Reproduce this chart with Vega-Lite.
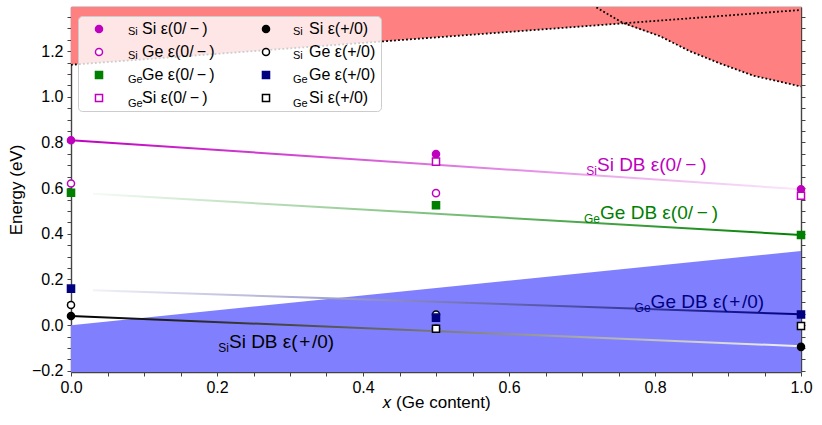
{
  "$schema": "https://vega.github.io/schema/vega-lite/v6.json",
  "width": 730,
  "height": 365,
  "autosize": "none",
  "padding": {"left": 71, "top": 7, "right": 21, "bottom": 53},
  "background": "white",
  "datasets": {
    "cb": [
      {"x": 0, "y": 1.14},
      {"x": 0.755, "y": 1.321},
      {"x": 0.807, "y": 1.265},
      {"x": 0.848, "y": 1.199},
      {"x": 0.889, "y": 1.146},
      {"x": 0.935, "y": 1.092},
      {"x": 1, "y": 1.045}
    ],
    "vb": [
      {"x": 0, "y": 0.0},
      {"x": 1, "y": 0.325}
    ],
    "bands": [
      {"band": "rising", "x": 0, "y": 1.14},
      {"band": "rising", "x": 1, "y": 1.38},
      {"band": "falling", "x": 0.715, "y": 1.4},
      {"band": "falling", "x": 0.755, "y": 1.325},
      {"band": "falling", "x": 0.807, "y": 1.265},
      {"band": "falling", "x": 0.848, "y": 1.199},
      {"band": "falling", "x": 0.889, "y": 1.146},
      {"band": "falling", "x": 0.935, "y": 1.092},
      {"band": "falling", "x": 1, "y": 1.045}
    ],
    "fits": [
      {"fit": "SiSi 0/-", "x": 0, "y": 0.81},
      {"fit": "SiSi 0/-", "x": 1, "y": 0.595},
      {"fit": "GeGe 0/-", "x": 0.03, "y": 0.575},
      {"fit": "GeGe 0/-", "x": 1, "y": 0.395},
      {"fit": "GeGe +/0", "x": 0.03, "y": 0.153},
      {"fit": "GeGe +/0", "x": 1, "y": 0.048},
      {"fit": "SiSi +/0", "x": 0, "y": 0.04},
      {"fit": "SiSi +/0", "x": 1, "y": -0.092}
    ],
    "points": [
      {"series": "SiSi ε(0/\u2009−\u2009)", "x": 0, "y": 0.81},
      {"series": "SiSi ε(0/\u2009−\u2009)", "x": 0.5, "y": 0.749},
      {"series": "SiSi ε(0/\u2009−\u2009)", "x": 1, "y": 0.595},
      {"series": "SiGe ε(0/\u2009−\u2009)", "x": 0, "y": 0.62},
      {"series": "SiGe ε(0/\u2009−\u2009)", "x": 0.5, "y": 0.578},
      {"series": "GeGe ε(0/\u2009−\u2009)", "x": 0, "y": 0.58},
      {"series": "GeGe ε(0/\u2009−\u2009)", "x": 0.5, "y": 0.525},
      {"series": "GeGe ε(0/\u2009−\u2009)", "x": 1, "y": 0.395},
      {"series": "GeSi ε(0/\u2009−\u2009)", "x": 0.5, "y": 0.716},
      {"series": "GeSi ε(0/\u2009−\u2009)", "x": 1, "y": 0.567},
      {"series": "SiSi ε(+/0)", "x": 0, "y": 0.04},
      {"series": "SiSi ε(+/0)", "x": 0.5, "y": -0.016},
      {"series": "SiSi ε(+/0)", "x": 1, "y": -0.095},
      {"series": "SiGe ε(+/0)", "x": 0, "y": 0.088},
      {"series": "SiGe ε(+/0)", "x": 0.5, "y": 0.047},
      {"series": "GeGe ε(+/0)", "x": 0, "y": 0.16},
      {"series": "GeGe ε(+/0)", "x": 0.5, "y": 0.033},
      {"series": "GeGe ε(+/0)", "x": 1, "y": 0.047},
      {"series": "GeSi ε(+/0)", "x": 0.5, "y": -0.016},
      {"series": "GeSi ε(+/0)", "x": 1, "y": -0.004}
    ],
    "labels": [
      {"name": "SiSi 0/-", "sub": "Si", "main": "Si DB ε(0/\u2009−\u2009)", "x": 0.7205, "y": 0.674},
      {"name": "GeGe 0/-", "sub": "Ge", "main": "Ge DB ε(0/\u2009−\u2009)", "x": 0.7247, "y": 0.463},
      {"name": "GeGe +/0", "sub": "Ge", "main": "Ge DB ε(\u200a+\u200a/0)", "x": 0.794, "y": 0.074},
      {"name": "SiSi +/0", "sub": "Si", "main": "Si DB ε(\u200a+\u200a/0)", "x": 0.2164, "y": -0.1}
    ]
  },
  "layer": [
    {
      "data": {"name": "cb"},
      "mark": {"type": "area", "color": "#ff8080", "clip": true},
      "encoding": {
        "x": {
          "field": "x",
          "type": "quantitative",
          "scale": {"domain": [0, 1], "nice": false, "zero": false},
          "axis": {
            "orient": "bottom",
            "title": "𝑥 (Ge content)",
            "values": [0, 0.05, 0.1, 0.15, 0.2, 0.25, 0.3, 0.35, 0.4, 0.45, 0.5, 0.55, 0.6, 0.65, 0.7, 0.75, 0.8, 0.85, 0.9, 0.95, 1],
            "labelExpr": "abs(datum.value * 5 - round(datum.value * 5)) < 0.001 ? format(datum.value, '.1f') : ''",
            "labelFlush": false,
            "labelOverlap": false,
            "labelPadding": 3,
            "titlePadding": -1
          }
        },
        "y": {
          "field": "y",
          "type": "quantitative",
          "scale": {"domain": [-0.205, 1.393], "nice": false, "zero": false},
          "axis": {
            "orient": "left",
            "title": "Energy (eV)",
            "values": [-0.2, -0.15, -0.1, -0.05, 0, 0.05, 0.1, 0.15, 0.2, 0.25, 0.3, 0.35, 0.4, 0.45, 0.5, 0.55, 0.6, 0.65, 0.7, 0.75, 0.8, 0.85, 0.9, 0.95, 1, 1.05, 1.1, 1.15, 1.2, 1.25, 1.3, 1.35],
            "labelExpr": "abs(datum.value * 5 - round(datum.value * 5)) < 0.001 ? format(datum.value, '.1f') : ''",
            "labelFlush": false,
            "labelOverlap": false,
            "labelPadding": 4,
            "titlePadding": 6
          }
        },
        "y2": {"datum": 1.393}
      }
    },
    {
      "data": {"name": "vb"},
      "mark": {"type": "area", "color": "#8080ff", "clip": true},
      "encoding": {
        "x": {"field": "x", "type": "quantitative", "axis": null},
        "y": {"field": "y", "type": "quantitative", "axis": null},
        "y2": {"datum": -0.205}
      }
    },
    {
      "data": {"name": "bands"},
      "mark": {"type": "line", "color": "black", "strokeWidth": 1.8, "strokeDash": [1.8, 2.2], "clip": true},
      "encoding": {
        "x": {"field": "x", "type": "quantitative", "axis": null},
        "y": {"field": "y", "type": "quantitative", "axis": null},
        "detail": {"field": "band"}
      }
    },
    {
      "data": {"name": "fits"},
      "transform": [{"filter": "datum.fit == 'SiSi 0/-'"}],
      "mark": {
        "type": "line",
        "strokeWidth": 2,
        "stroke": {"gradient": "linear", "x1": 0, "y1": 0, "x2": 1, "y2": 0,
          "stops": [{"offset": 0, "color": "#bf00bf"}, {"offset": 1, "color": "#fbe8fb"}]}
      },
      "encoding": {
        "x": {"field": "x", "type": "quantitative", "axis": null},
        "y": {"field": "y", "type": "quantitative", "axis": null}
      }
    },
    {
      "data": {"name": "fits"},
      "transform": [{"filter": "datum.fit == 'GeGe 0/-'"}],
      "mark": {
        "type": "line",
        "strokeWidth": 2,
        "stroke": {"gradient": "linear", "x1": 0, "y1": 0, "x2": 1, "y2": 0,
          "stops": [{"offset": 0, "color": "#f4fbf4"}, {"offset": 1, "color": "#008000"}]}
      },
      "encoding": {
        "x": {"field": "x", "type": "quantitative", "axis": null},
        "y": {"field": "y", "type": "quantitative", "axis": null}
      }
    },
    {
      "data": {"name": "fits"},
      "transform": [{"filter": "datum.fit == 'GeGe +/0'"}],
      "mark": {
        "type": "line",
        "strokeWidth": 2,
        "stroke": {"gradient": "linear", "x1": 0, "y1": 0, "x2": 1, "y2": 0,
          "stops": [{"offset": 0, "color": "#f2f2f8"}, {"offset": 1, "color": "#000080"}]}
      },
      "encoding": {
        "x": {"field": "x", "type": "quantitative", "axis": null},
        "y": {"field": "y", "type": "quantitative", "axis": null}
      }
    },
    {
      "data": {"name": "fits"},
      "transform": [{"filter": "datum.fit == 'SiSi +/0'"}],
      "mark": {
        "type": "line",
        "strokeWidth": 2,
        "stroke": {"gradient": "linear", "x1": 0, "y1": 0, "x2": 1, "y2": 0,
          "stops": [{"offset": 0, "color": "#000000"}, {"offset": 1, "color": "#f2f2f2"}]}
      },
      "encoding": {
        "x": {"field": "x", "type": "quantitative", "axis": null},
        "y": {"field": "y", "type": "quantitative", "axis": null}
      }
    },
    {
      "data": {"name": "points"},
      "mark": {"type": "point", "filled": true, "size": 50, "strokeWidth": 1.5, "opacity": 1},
      "encoding": {
        "x": {"field": "x", "type": "quantitative", "axis": null},
        "y": {"field": "y", "type": "quantitative", "axis": null},
        "shape": {
          "field": "series",
          "type": "nominal",
          "scale": {
            "domain": ["SiSi ε(0/\u2009−\u2009)", "SiGe ε(0/\u2009−\u2009)", "GeGe ε(0/\u2009−\u2009)", "GeSi ε(0/\u2009−\u2009)", "SiSi ε(+/0)", "SiGe ε(+/0)", "GeGe ε(+/0)", "GeSi ε(+/0)"],
            "range": ["circle", "circle", "square", "square", "circle", "circle", "square", "square"]
          },
          "legend": {
            "orient": "none",
            "legendX": 7,
            "legendY": 9,
            "columns": 2,
            "title": null,
            "labelExpr": "(substring(datum.label, 0, 2) == 'Ge' ? '\u2009\u200a' : '') + substring(datum.label, 2)",
            "labelFont": "Liberation Sans",
            "labelFontSize": 16,
            "labelColor": "black",
            "labelLimit": 300,
            "symbolSize": 50,
            "symbolStrokeWidth": 1.5,
            "symbolOffset": 8,
            "labelOffset": 35,
            "rowPadding": 7,
            "columnPadding": 35,
            "padding": 5,
            "fillColor": "rgba(255,255,255,0.8)",
            "strokeColor": "#cccccc",
            "cornerRadius": 4
          }
        },
        "stroke": {
          "field": "series",
          "type": "nominal",
          "scale": {
            "domain": ["SiSi ε(0/\u2009−\u2009)", "SiGe ε(0/\u2009−\u2009)", "GeGe ε(0/\u2009−\u2009)", "GeSi ε(0/\u2009−\u2009)", "SiSi ε(+/0)", "SiGe ε(+/0)", "GeGe ε(+/0)", "GeSi ε(+/0)"],
            "range": ["#bf00bf", "#bf00bf", "#008000", "#bf00bf", "#000000", "#000000", "#000080", "#000000"]
          }
        },
        "fill": {
          "field": "series",
          "type": "nominal",
          "scale": {
            "domain": ["SiSi ε(0/\u2009−\u2009)", "SiGe ε(0/\u2009−\u2009)", "GeGe ε(0/\u2009−\u2009)", "GeSi ε(0/\u2009−\u2009)", "SiSi ε(+/0)", "SiGe ε(+/0)", "GeGe ε(+/0)", "GeSi ε(+/0)"],
            "range": ["#bf00bf", "#ffffff", "#008000", "#ffffff", "#000000", "#ffffff", "#000080", "#ffffff"]
          }
        },
        "opacity": {
          "field": "series",
          "type": "nominal",
          "sort": ["SiSi ε(0/\u2009−\u2009)", "SiGe ε(0/\u2009−\u2009)", "GeGe ε(0/\u2009−\u2009)", "GeSi ε(0/\u2009−\u2009)", "SiSi ε(+/0)", "SiGe ε(+/0)", "GeGe ε(+/0)", "GeSi ε(+/0)"],
          "scale": {"range": [1, 1, 1, 1, 1, 1, 1, 1]},
          "legend": {
            "orient": "none",
            "legendX": 46,
            "legendY": 19,
            "columns": 2,
            "title": null,
            "labelExpr": "substring(datum.label, 0, 2)",
            "labelFont": "Liberation Sans",
            "labelFontSize": 11,
            "labelColor": "black",
            "symbolSize": 0,
            "symbolStrokeWidth": 0,
            "symbolOffset": 0,
            "labelOffset": 0,
            "rowPadding": 12,
            "columnPadding": 139,
            "padding": 0
          }
        }
      }
    },
    {
      "data": {"name": "labels"},
      "mark": {"type": "text", "align": "right", "baseline": "alphabetic", "dy": 4, "fontSize": 12, "font": "Liberation Sans"},
      "encoding": {
        "x": {"field": "x", "type": "quantitative", "axis": null},
        "y": {"field": "y", "type": "quantitative", "axis": null},
        "text": {"field": "sub"},
        "color": {
          "field": "name",
          "type": "nominal",
          "scale": {"domain": ["SiSi 0/-", "GeGe 0/-", "GeGe +/0", "SiSi +/0"], "range": ["#bf00bf", "#008000", "#000080", "#000000"]},
          "legend": null
        }
      }
    },
    {
      "data": {"name": "labels"},
      "mark": {"type": "text", "align": "left", "baseline": "alphabetic", "fontSize": 19, "font": "Liberation Sans"},
      "encoding": {
        "x": {
          "field": "x",
          "type": "quantitative",
          "axis": {"orient": "top", "title": null, "labels": false, "ticks": false}
        },
        "y": {
          "field": "y",
          "type": "quantitative",
          "axis": {
            "orient": "right",
            "title": null,
            "labels": false,
            "values": [-0.2, -0.15, -0.1, -0.05, 0, 0.05, 0.1, 0.15, 0.2, 0.25, 0.3, 0.35, 0.4, 0.45, 0.5, 0.55, 0.6, 0.65, 0.7, 0.75, 0.8, 0.85, 0.9, 0.95, 1, 1.05, 1.1, 1.15, 1.2, 1.25, 1.3, 1.35]
          }
        },
        "text": {"field": "main"},
        "color": {"field": "name", "type": "nominal", "legend": null}
      }
    }
  ],
  "config": {
    "view": {"stroke": null},
    "font": "Liberation Sans",
    "axis": {
      "grid": false,
      "zindex": 1,
      "domainColor": "#444444",
      "domainWidth": 1.4,
      "tickColor": "#444444",
      "tickSize": 4,
      "tickWidth": 1,
      "labelFont": "Liberation Sans",
      "labelFontSize": 16,
      "labelColor": "black",
      "titleFont": "Liberation Sans",
      "titleFontSize": 17,
      "titleFontWeight": "normal",
      "titleColor": "black"
    }
  }
}
